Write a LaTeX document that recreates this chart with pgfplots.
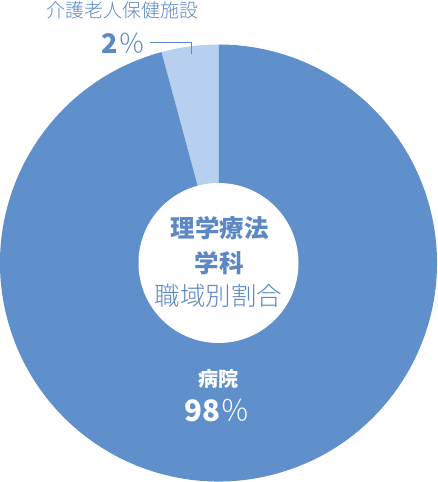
\documentclass[border=0pt]{standalone}
\usepackage{pgfplots}
\pgfplotsset{compat=1.18}
\usepackage{fontspec}
\setmainfont{Noto Sans CJK JP}
\newfontfamily\lightfont{Noto Sans CJK JP Light}
\definecolor{mainblue}{RGB}{96,144,204}
\definecolor{lightblue}{RGB}{184,208,240}
\definecolor{txtblue}{RGB}{92,136,198}

% shares as drawn (percent): hospital, care facility
\def\shareHosp{95.8}
\def\shareCare{4.2}
\pgfmathsetmacro{\sliceEnd}{90+\shareCare*3.6}

\begin{document}
\begin{tikzpicture}
\begin{axis}[
	hide axis,
	scale only axis,
	width=437pt, height=482pt,
	xmin=0, xmax=437,
	ymin=0, ymax=482,
	y dir=reverse,
	clip=false,
	]
	\coordinate (bl) at (axis cs:0,482);
	\coordinate (tr) at (axis cs:437,0);
	% slices
	\fill[lightblue] (axis cs:218.5,263) -- ++(90:218.5pt)
		arc[start angle=90, end angle=\sliceEnd, radius=218.5pt] -- cycle;
	\fill[mainblue] (axis cs:218.5,263) -- ++(\sliceEnd:218.5pt)
		arc[start angle=\sliceEnd, end angle=450, radius=218.5pt] -- cycle;
	\fill[white] (axis cs:218.5,263) circle[radius=80pt];
	% centre title
	\node[txtblue, inner sep=0, font=\fontsize{24.5}{24}\selectfont\bfseries] at (axis cs:219.5,228) {理学療法};
	\node[txtblue, inner sep=0, font=\fontsize{24.5}{24}\selectfont\bfseries] at (axis cs:219,263) {学科};
	\node[txtblue, inner sep=0, font=\fontsize{25.5}{24}\selectfont\lightfont] at (axis cs:218.5,296) {職域別割合};
	% hospital label
	\node[white, inner sep=0, font=\fontsize{20}{20}\selectfont\bfseries] at (axis cs:218.5,379) {病院};
	\node[white, inner sep=0, font=\fontsize{29.5}{29}\selectfont] at (axis cs:217.5,411) {\textbf{98}{\lightfont ％}};
	% care facility label
	\node[txtblue, inner sep=0, font=\fontsize{19}{18}\selectfont\lightfont] at (axis cs:122,10.5) {介護老人保健施設};
	\node[txtblue, inner sep=0, font=\fontsize{27}{27}\selectfont] at (axis cs:123.5,43) {\textbf{2}{\lightfont ％}};
	\draw[txtblue, line width=0.9pt] (axis cs:150,42) -- (axis cs:191,42) -- (axis cs:191,54);
\end{axis}
\pgfresetboundingbox
\path (bl) rectangle (tr);
\end{tikzpicture}
\end{document}
